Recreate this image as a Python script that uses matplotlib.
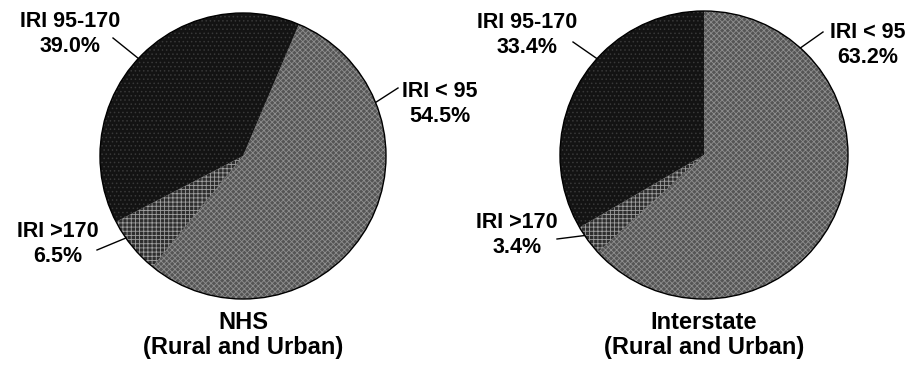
import numpy as np
import matplotlib.pyplot as plt
from matplotlib.patches import Circle

plt.rcParams['font.family'] = ['Liberation Sans', 'DejaVu Sans']
plt.rcParams['hatch.linewidth'] = 0.6

# data
categories = ["IRI < 95", "IRI >170", "IRI 95-170"]
nhs_values = [54.5, 6.5, 39.0]
interstate_values = [63.2, 3.4, 33.4]
titles = ["NHS\n(Rural and Urban)", "Interstate\n(Rural and Urban)"]

# styles for the three slices
fills = ['#555555', '#2e2e2e', '#131313']
hatch_cols = ['#8e8e8e', '#a0a0a0', '#383838']
hatches = ['xxxxxx', '++++', '....']

W, H = 913, 367

# layout in pixel space (x, y from top)
pies = [
    dict(values=nhs_values, title=titles[0], center=(243, 156), r=143, start=67,
         labels=[((440, 104), 22, (398, 88)),
                 ((58, 244), 215, (97, 250)),
                 ((70, 34), 137, (113, 38))]),
    dict(values=interstate_values, title=titles[1], center=(704, 155), r=144, start=90,
         labels=[((868, 45), 48, (823, 32)),
                 ((517, 235), 214, (557, 239)),
                 ((527, 35), 138, (573, 42))]),
]

fig = plt.figure(figsize=(W / 100, H / 100), dpi=100)
ax = fig.add_axes([0, 0, 1, 1])

for p in pies:
    cx, cy = p['center'][0], H - p['center'][1]
    wedges, _ = ax.pie(p['values'], center=(cx, cy), radius=p['r'],
                       startangle=p['start'], counterclock=False,
                       colors=fills, wedgeprops=dict(linewidth=0))
    for w, h, hc in zip(wedges, hatches, hatch_cols):
        w.set_hatch(h)
        w.set_edgecolor(hc)
    ax.add_patch(Circle((cx, cy), p['r'], fill=False, edgecolor='black', linewidth=1.0))

    for name, val, (tpos, ang, lend) in zip(categories, p['values'], p['labels']):
        a = np.deg2rad(ang)
        x0 = cx + p['r'] * np.cos(a)
        y0 = cy + p['r'] * np.sin(a)
        ax.plot([x0, lend[0]], [y0, H - lend[1]], color='black', linewidth=1.0)
        ax.text(tpos[0], H - tpos[1], f"{name}\n{val:.1f}%", ha='center', va='center',
                multialignment='center', fontsize=15.5, fontweight='bold',
                linespacing=1.25)

    ax.text(cx, H - 335, p['title'], ha='center', va='center', multialignment='center',
            fontsize=17, fontweight='bold', linespacing=1.15)

ax.set_xlim(0, W)
ax.set_ylim(0, H)
ax.set_aspect('equal')
ax.axis('off')

fig.savefig('out.png', dpi=100)
